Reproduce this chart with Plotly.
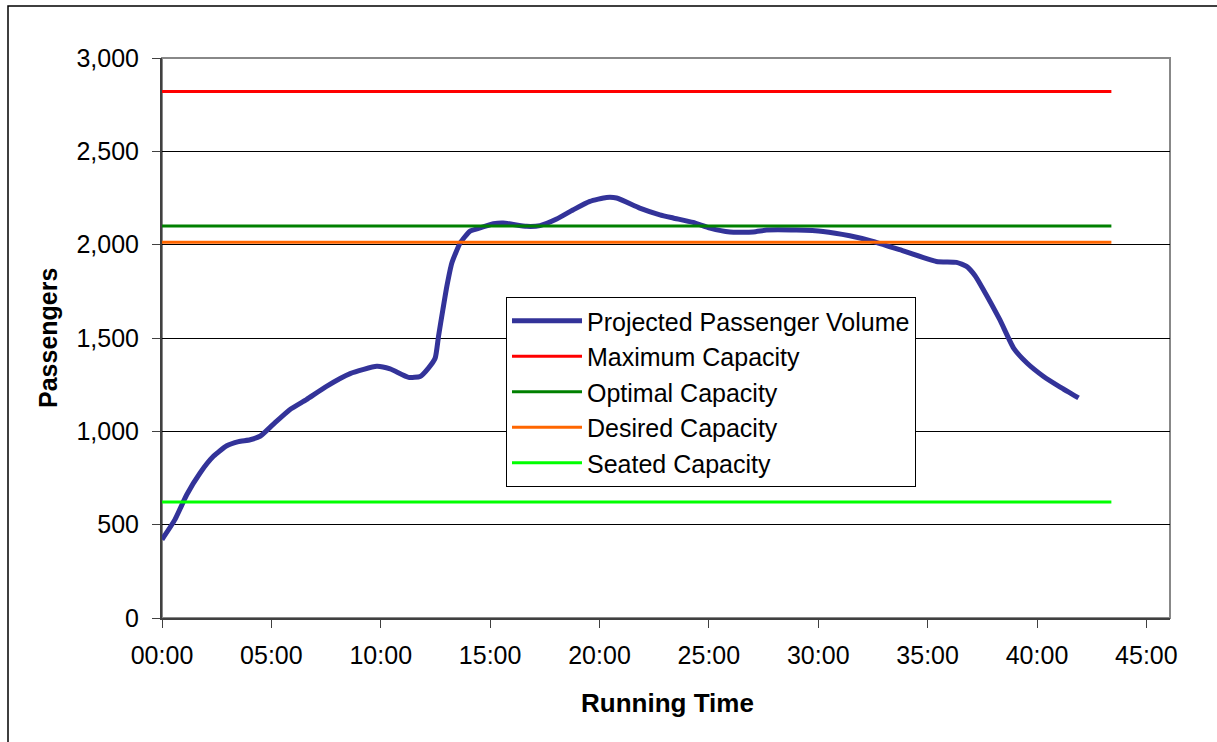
import plotly.graph_objects as go

# ---- data (minutes of running time, passengers) ----
run_minutes = [0, 0.59, 1.13, 1.74, 2.35, 2.96, 3.5, 4.03, 4.5, 5.07, 5.84, 6.6, 7.52, 8.6,
               9.82, 10.43, 11.27, 11.8, 12.18, 12.49, 12.64, 12.84, 13.02, 13.25, 13.63,
               14.07, 14.39, 15.15, 15.6, 16.67, 17.28, 18.04, 18.8, 19.56, 20.32, 20.78,
               21.84, 22.76, 23.37, 24.28, 25.05, 25.96, 27.03, 27.64, 29.0, 30.22, 31.44,
               32.5, 33.72, 35.4, 36.32, 36.78, 37.17, 37.55, 38.3, 38.93, 39.54, 40.3,
               41.06, 41.9]
projected_volume = [420, 527, 660, 777, 866, 923, 945, 955, 975, 1036, 1116, 1170, 1241, 1309,
                    1348, 1334, 1289, 1294, 1339, 1393, 1509, 1652, 1776, 1902, 2009,
                    2071, 2084, 2112, 2116, 2098, 2102, 2137, 2187, 2232, 2253, 2250,
                    2196, 2160, 2143, 2119, 2089, 2068, 2068, 2078, 2078, 2071, 2048,
                    2018, 1973, 1910, 1905, 1884, 1834, 1759, 1598, 1446, 1366, 1294,
                    1237, 1179]

capacity_minutes = [0, 43.4]
maximum_capacity = 2820
optimal_capacity = 2100
desired_capacity = 2013
seated_capacity = 622

x_tick_minutes = [0, 5, 10, 15, 20, 25, 30, 35, 40, 45]
x_tick_labels = ["00:00", "05:00", "10:00", "15:00", "20:00", "25:00", "30:00", "35:00", "40:00", "45:00"]
y_tick_values = [0, 500, 1000, 1500, 2000, 2500, 3000]

FONT = "Liberation Sans, Arial, sans-serif"

fig = go.Figure()
fig.add_trace(go.Scatter(x=run_minutes, y=projected_volume, mode="lines",
                         name="Projected Passenger Volume",
                         line=dict(color="#333399", width=5, shape="spline", smoothing=0.5)))
for name, val, col in [("Maximum Capacity", maximum_capacity, "#FF0000"),
                       ("Optimal Capacity", optimal_capacity, "#008000"),
                       ("Desired Capacity", desired_capacity, "#FF6600"),
                       ("Seated Capacity", seated_capacity, "#00FF00")]:
    fig.add_trace(go.Scatter(x=capacity_minutes, y=[val] * len(capacity_minutes), mode="lines",
                             name=name, line=dict(color=col, width=3)))

L, R, T, B = 162, 1170, 58, 618
W, H = 1217, 742
pw, ph = R - L, B - T

def px_x(p):
    return (p - L) / pw

def px_y(p):
    return (B - p) / ph

fig.update_layout(
    width=W, height=H,
    margin=dict(l=L, r=W - R, t=T, b=H - B, pad=0),
    paper_bgcolor="white", plot_bgcolor="white",
    font=dict(family=FONT, size=25, color="black"),
    showlegend=True,
    legend=dict(x=px_x(506), y=px_y(297), xanchor="left", yanchor="top",
                bgcolor="white", bordercolor="black", borderwidth=1,
                font=dict(family=FONT, size=25, color="black"),
                itemwidth=70, tracegroupgap=0),
    xaxis=dict(range=[0, 46.08], tickvals=x_tick_minutes, ticktext=x_tick_labels,
               showgrid=False, zeroline=False, showline=True, linecolor="#404040", linewidth=2,
               ticks="outside", ticklen=8, tickcolor="#404040", tickwidth=1,
               ticklabelstandoff=6, tickfont=dict(size=25)),
    yaxis=dict(range=[0, 3000], tickvals=y_tick_values, tickformat=",d",
               showgrid=True, gridcolor="black", gridwidth=1, zeroline=False,
               showline=True, linecolor="#404040", linewidth=2,
               ticks="outside", ticklen=8, tickcolor="#404040", tickwidth=1,
               ticklabelstandoff=8, tickfont=dict(size=25)),
    shapes=[
        dict(type="rect", xref="paper", yref="paper", x0=0, x1=1, y0=0, y1=1,
             line=dict(color="#888888", width=2), layer="below"),
        dict(type="rect", xref="paper", yref="paper", x0=px_x(8), x1=px_x(1225),
             y0=px_y(750), y1=px_y(6), line=dict(color="black", width=1.5), layer="below"),
    ],
    annotations=[
        dict(text="<b>Running Time</b>", xref="paper", yref="paper", x=px_x(667), y=px_y(703),
             xanchor="center", yanchor="middle", showarrow=False, font=dict(size=26)),
        dict(text="<b>Passengers</b>", xref="paper", yref="paper", x=px_x(48), y=px_y(338),
             xanchor="center", yanchor="middle", showarrow=False, textangle=-90,
             font=dict(size=25)),
    ],
)

fig.write_html("out.html")
